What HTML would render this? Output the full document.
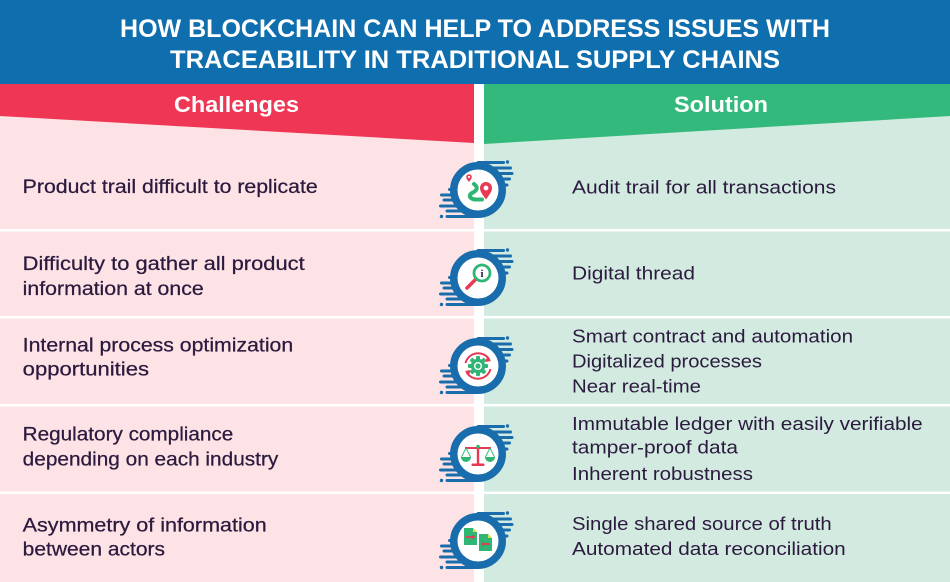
<!DOCTYPE html>
<html>
<head>
<meta charset="utf-8">
<style>
  html, body { margin:0; padding:0; background:#fff; }
  svg { display:block; }
  .t { font-family:"Liberation Sans", sans-serif; }
</style>
</head>
<body>
<svg width="950" height="582" viewBox="0 0 950 582" xmlns="http://www.w3.org/2000/svg">
  <defs>
    <g id="ring">
      <g stroke="#1a6dac" stroke-width="3" stroke-linecap="round" fill="none">
        <line x1="0" y1="-27.5" x2="25.5" y2="-27.5"/>
        <line x1="8" y1="-22" x2="32.5" y2="-22"/>
        <line x1="14" y1="-16.5" x2="34" y2="-16.5"/>
        <line x1="18" y1="-11" x2="31.5" y2="-11"/>
        <line x1="20" y1="-5" x2="29" y2="-5"/>
        <line x1="-28.5" y1="-0.5" x2="-8" y2="-0.5"/>
        <line x1="-36.5" y1="5" x2="-8" y2="5"/>
        <line x1="-34" y1="10" x2="-8" y2="10"/>
        <line x1="-37.5" y1="16" x2="-8" y2="16"/>
        <line x1="-31" y1="21" x2="-6" y2="21"/>
        <line x1="-31" y1="26.5" x2="0" y2="26.5"/>
      </g>
      <circle cx="29.5" cy="-28" r="1.7" fill="#1a6dac"/>
      <circle cx="-36.5" cy="26.5" r="1.7" fill="#1a6dac"/>
      <circle r="24" fill="none" stroke="#1a6dac" stroke-width="8"/>
      <circle r="20.5" fill="#ffffff"/>
    </g>
  </defs>

  <!-- backgrounds -->
  <rect x="0" y="84" width="474" height="498" fill="#fde3e5"/>
  <rect x="484" y="84" width="466" height="498" fill="#d2eae0"/>
  <rect x="0" y="0" width="950" height="84" fill="#0f6ead"/>
  <polygon points="0,84 474,84 474,143 0,116" fill="#ef3655"/>
  <polygon points="484,84 950,84 950,116 484,144" fill="#33b97b"/>

  <!-- row dividers -->
  <rect x="0" y="229" width="950" height="2.5" fill="#ffffff"/>
  <rect x="0" y="316" width="950" height="2.5" fill="#ffffff"/>
  <rect x="0" y="404" width="950" height="2.5" fill="#ffffff"/>
  <rect x="0" y="491.5" width="950" height="2.5" fill="#ffffff"/>

  <!-- title -->
  <g class="t" fill="#ffffff" font-weight="bold" font-size="25">
    <text x="120" y="37" textLength="710" lengthAdjust="spacingAndGlyphs">HOW BLOCKCHAIN CAN HELP TO ADDRESS ISSUES WITH</text>
    <text x="170" y="68" textLength="610" lengthAdjust="spacingAndGlyphs">TRACEABILITY IN TRADITIONAL SUPPLY CHAINS</text>
  </g>
  <g class="t" fill="#ffffff" font-weight="bold" font-size="22">
    <text x="174" y="112" textLength="125" lengthAdjust="spacingAndGlyphs">Challenges</text>
    <text x="674" y="112" textLength="94" lengthAdjust="spacingAndGlyphs">Solution</text>
  </g>

  <!-- left texts -->
  <g class="t" fill="#2b1a3e" stroke="#2b1a3e" stroke-width="0.25" font-size="19">
    <text x="22.7" y="193" textLength="295" lengthAdjust="spacingAndGlyphs">Product trail difficult to replicate</text>
    <text x="22.7" y="270" textLength="282" lengthAdjust="spacingAndGlyphs">Difficulty to gather all product</text>
    <text x="22.7" y="295" textLength="181" lengthAdjust="spacingAndGlyphs">information at once</text>
    <text x="22.7" y="351.5" textLength="270.5" lengthAdjust="spacingAndGlyphs">Internal process optimization</text>
    <text x="22.7" y="375.5" textLength="126.3" lengthAdjust="spacingAndGlyphs">opportunities</text>
    <text x="22.7" y="440.7" textLength="210.6" lengthAdjust="spacingAndGlyphs">Regulatory compliance</text>
    <text x="22.7" y="465.7" textLength="255.6" lengthAdjust="spacingAndGlyphs">depending on each industry</text>
    <text x="22.7" y="531.7" textLength="244" lengthAdjust="spacingAndGlyphs">Asymmetry of information</text>
    <text x="22.7" y="555.7" textLength="142.3" lengthAdjust="spacingAndGlyphs">between actors</text>
  </g>

  <!-- right texts -->
  <g class="t" fill="#2b1a3e" font-size="18.5">
    <text x="572" y="193.3" textLength="264" lengthAdjust="spacingAndGlyphs">Audit trail for all transactions</text>
    <text x="572" y="279.3" textLength="123" lengthAdjust="spacingAndGlyphs">Digital thread</text>
    <text x="572" y="342.7" textLength="281" lengthAdjust="spacingAndGlyphs">Smart contract and automation</text>
    <text x="572" y="367.3" textLength="190" lengthAdjust="spacingAndGlyphs">Digitalized processes</text>
    <text x="572" y="392.3" textLength="129" lengthAdjust="spacingAndGlyphs">Near real-time</text>
    <text x="572" y="430" textLength="350.7" lengthAdjust="spacingAndGlyphs">Immutable ledger with easily verifiable</text>
    <text x="572" y="453.3" textLength="166" lengthAdjust="spacingAndGlyphs">tamper-proof data</text>
    <text x="572" y="480" textLength="181" lengthAdjust="spacingAndGlyphs">Inherent robustness</text>
    <text x="572" y="530" textLength="259.7" lengthAdjust="spacingAndGlyphs">Single shared source of truth</text>
    <text x="572" y="555" textLength="273.7" lengthAdjust="spacingAndGlyphs">Automated data reconciliation</text>
  </g>

  <!-- icon 1: route -->
  <use href="#ring" x="478" y="190"/>
  <g transform="translate(478,190)">
    <path d="M-4,-6 C0,-3 0,0 -6,3 C-11,6 -7,10 0,9.5 L4,9.5" stroke="#2fb574" stroke-width="4" fill="none" stroke-linecap="round"/>
    <path d="M-9,-8 C-10.5,-10 -11.8,-11.5 -11.8,-13 A2.8,2.8 0 1 1 -6.2,-13 C-6.2,-11.5 -7.5,-10 -9,-8Z" fill="#e83a55"/>
    <circle cx="-9" cy="-13" r="1.1" fill="#fff"/>
    <path d="M8,9.5 C4.5,4.5 2,1.5 2,-2 A6,6 0 1 1 14,-2 C14,1.5 11.5,4.5 8,9.5Z" fill="#e83a55"/>
    <circle cx="8" cy="-2" r="2.4" fill="#fff"/>
  </g>

  <!-- icon 2: magnifier -->
  <use href="#ring" x="478" y="278"/>
  <g transform="translate(478,278)">
    <line x1="-2" y1="1" x2="-11" y2="10" stroke="#e83a55" stroke-width="3.6" stroke-linecap="round"/>
    <circle cx="4" cy="-5" r="8" fill="#fff" stroke="#2fb574" stroke-width="2.8"/>
    <text x="4" y="-1" text-anchor="middle" font-family="Liberation Serif, serif" font-weight="bold" font-size="11" fill="#2b1a3e">i</text>
  </g>

  <!-- icon 3: gear with arrows -->
  <use href="#ring" x="478" y="366"/>
  <g transform="translate(478,366)">
    <g fill="#2fb574">
      <rect x="-2" y="-10" width="4" height="20" rx="1"/>
      <rect x="-10" y="-2" width="20" height="4" rx="1"/>
      <rect x="-2" y="-10" width="4" height="20" rx="1" transform="rotate(45)"/>
      <rect x="-2" y="-10" width="4" height="20" rx="1" transform="rotate(-45)"/>
      <circle r="7.2"/>
    </g>
    <circle r="4" fill="#fff"/>
    <circle r="2.6" fill="#2fb574"/>
    <path d="M-12.5,-3 A13,13 0 0 1 11.5,-6" stroke="#e83a55" stroke-width="2" fill="none"/>
    <path d="M9,-9.5 L13,-5 L7.5,-4 Z" fill="#e83a55"/>
    <path d="M12.5,3 A13,13 0 0 1 -11.5,6" stroke="#e83a55" stroke-width="2" fill="none"/>
    <path d="M-9,9.5 L-13,5 L-7.5,4 Z" fill="#e83a55"/>
  </g>

  <!-- icon 4: scales -->
  <use href="#ring" x="478" y="454"/>
  <g transform="translate(478,454)">
    <line x1="-13" y1="-6" x2="13" y2="-6" stroke="#e83a55" stroke-width="2"/>
    <line x1="0" y1="-7" x2="0" y2="10" stroke="#e83a55" stroke-width="2.4"/>
    <rect x="-6.5" y="9.5" width="13" height="2.5" rx="1" fill="#e83a55"/>
    <circle cx="0" cy="-7.5" r="1.8" fill="#2fb574"/>
    <g stroke="#2fb574" stroke-width="0.9" fill="none">
      <line x1="-12" y1="-6" x2="-16.5" y2="3"/>
      <line x1="-12" y1="-6" x2="-7.5" y2="3"/>
      <line x1="12" y1="-6" x2="7.5" y2="3"/>
      <line x1="12" y1="-6" x2="16.5" y2="3"/>
    </g>
    <path d="M-17,3 A5,5 0 0 0 -7,3 Z" fill="#2fb574"/>
    <path d="M7,3 A5,5 0 0 0 17,3 Z" fill="#2fb574"/>
  </g>

  <!-- icon 5: documents -->
  <use href="#ring" x="478" y="541"/>
  <g transform="translate(478,541)">
    <path d="M-14,-13 L-5,-13 L-1,-9 L-1,4 L-14,4 Z" fill="#2fb574"/>
    <path d="M-5,-13 L-1,-9 L-5,-9 Z" fill="#d9e23a"/>
    <line x1="-12" y1="-4" x2="-5" y2="-4" stroke="#e83a55" stroke-width="1.8"/>
    <path d="M-5.5,-6.5 L-2.5,-4 L-5.5,-1.5 Z" fill="#e83a55"/>
    <path d="M1,-7 L10,-7 L14,-3 L14,10 L1,10 Z" fill="#2fb574"/>
    <path d="M10,-7 L14,-3 L10,-3 Z" fill="#d9e23a"/>
    <line x1="12" y1="3" x2="5.5" y2="3" stroke="#e83a55" stroke-width="1.8"/>
    <path d="M6,0.5 L3,3 L6,5.5 Z" fill="#e83a55"/>
  </g>
</svg>
</body>
</html>
